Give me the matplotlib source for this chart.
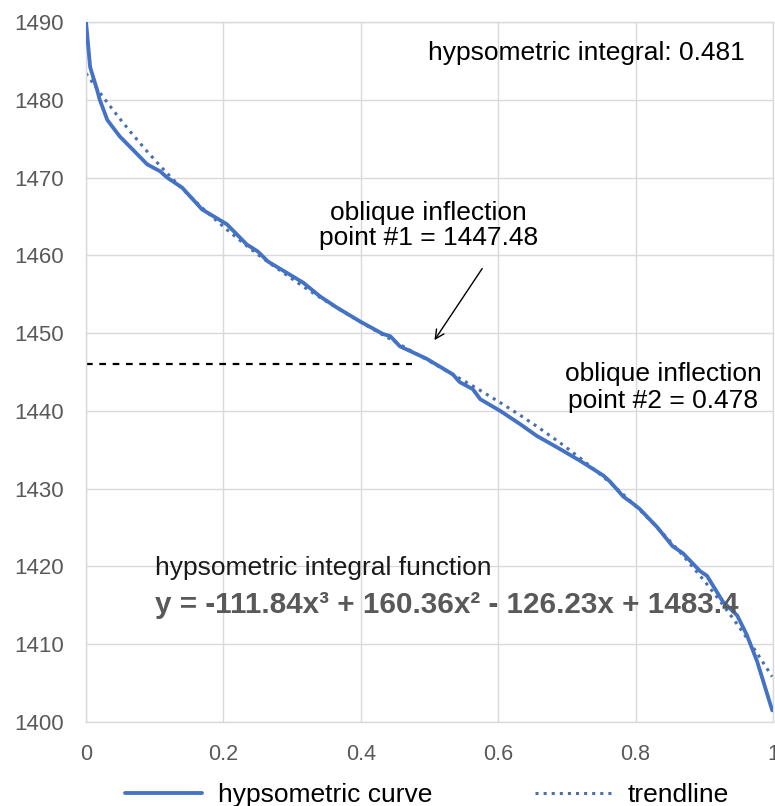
import numpy as np
import matplotlib.pyplot as plt

plt.rcParams["font.family"] = ["Liberation Sans", "DejaVu Sans"]

# hypsometric curve (relative area, elevation)
curve_x = [0.000, 0.006, 0.016, 0.020, 0.031, 0.049, 0.068, 0.089, 0.108, 0.118,
           0.140, 0.169, 0.205, 0.234, 0.250, 0.265, 0.316, 0.341, 0.365, 0.399,
           0.432, 0.443, 0.457, 0.496, 0.534, 0.544, 0.563, 0.574, 0.603, 0.632,
           0.656, 0.690, 0.719, 0.753, 0.763, 0.782, 0.796, 0.806, 0.831, 0.854,
           0.869, 0.894, 0.904, 0.927, 0.948, 0.962, 0.977, 0.999]
curve_y = [1490.0, 1484.2, 1481.3, 1480.0, 1477.4, 1475.3, 1473.6, 1471.7, 1470.8, 1470.0,
           1468.7, 1465.9, 1464.0, 1461.4, 1460.5, 1459.2, 1456.5, 1454.7, 1453.3, 1451.5,
           1449.9, 1449.6, 1448.3, 1446.7, 1444.7, 1443.7, 1442.8, 1441.5, 1440.0, 1438.3,
           1436.8, 1435.1, 1433.6, 1431.7, 1430.9, 1429.0, 1428.1, 1427.4, 1425.1, 1422.6,
           1421.7, 1419.4, 1418.8, 1415.5, 1413.7, 1411.2, 1407.8, 1401.5]

# cubic trendline coefficients as printed on the chart
trend_coeffs = [-111.84, 160.36, -126.23, 1483.4]

hyps_integral = 0.481
inflection_1 = 1447.48
inflection_2 = 0.478
dashed_y = 1446.0  # horizontal marker as drawn
dashed_x_end = 0.475

x_ticks = [0, 0.2, 0.4, 0.6, 0.8, 1]
x_tick_labels = ["0", "0.2", "0.4", "0.6", "0.8", "1"]
y_ticks = [1400, 1410, 1420, 1430, 1440, 1450, 1460, 1470, 1480, 1490]

blue = "#4472C4"
grid_c = "#d9d9d9"

fig = plt.figure(figsize=(7.75, 8.06), dpi=100)
ax = fig.add_axes([0.111, 0.1042, 0.8863, 0.8685])

cx = np.array(curve_x)
ax.plot(cx, curve_y, color=blue, lw=2.75, solid_capstyle="round",
        label="hypsometric curve", zorder=3)
ax.plot(cx, np.polyval(trend_coeffs, cx), color="#4a6fae", lw=2.2,
        linestyle=":", label="trendline", zorder=2)

ax.plot([0, dashed_x_end], [dashed_y, dashed_y], color="black", lw=1.6,
        linestyle=(0, (3, 3)), zorder=2)

ax.set_xlim(0, 1)
ax.set_ylim(1400, 1490)
ax.set_xticks(x_ticks)
ax.set_xticklabels(x_tick_labels)
ax.set_yticks(y_ticks)
ax.grid(True, color=grid_c, lw=1)
ax.set_axisbelow(True)
for s in ax.spines.values():
    s.set_color(grid_c)
    s.set_linewidth(1)
ax.tick_params(axis="both", length=0, colors="#595959")
ax.tick_params(axis="y", labelsize=16, pad=16)
ax.tick_params(axis="x", labelsize=15.5, pad=16)

ax.text(0.498, 1485.1, f"hypsometric integral: {hyps_integral}", fontsize=19,
        ha="left", va="baseline", color="black")
ax.text(0.498, 1463.8, f"oblique inflection\npoint #1 = {inflection_1}", fontsize=19,
        ha="center", va="center", linespacing=1.05, color="black")
ax.text(0.840, 1443.0, f"oblique inflection\npoint #2 = {inflection_2}", fontsize=19,
        ha="center", va="center", linespacing=1.13, color="black")
ax.text(0.100, 1418.9, "hypsometric integral function", fontsize=19,
        ha="left", va="baseline", color="#1a1a1a")
a, b, c, d = trend_coeffs
eq = f"y = {a}x³ + {b}x² - {abs(c)}x + {d}"
ax.text(0.100, 1414.0, eq, fontsize=21.3, fontweight="bold", ha="left",
        va="baseline", color="#595959")

ax.annotate("", xy=(0.505, 1448.8), xytext=(0.579, 1458.6),
            arrowprops=dict(arrowstyle="->", color="black", lw=1,
                            mutation_scale=16))

fig.legend(loc="center", bbox_to_anchor=(0.551, 0.0136), ncol=2, frameon=False,
           fontsize=19, handlelength=2.9, handletextpad=0.6, columnspacing=3.9,
           borderpad=0, borderaxespad=0)

fig.savefig("out.png", dpi=100)
